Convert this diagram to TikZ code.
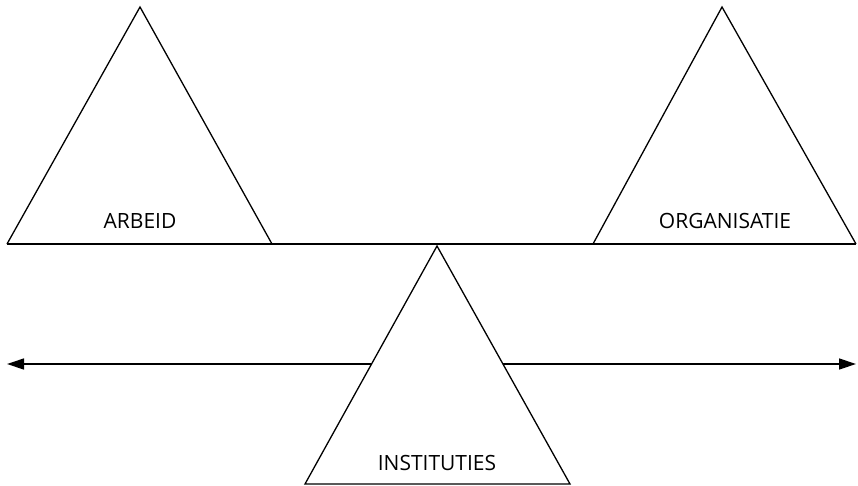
\documentclass[tikz,border=0pt]{standalone}
\usepackage{fontspec}
\setmainfont{Open Sans}
\usetikzlibrary{arrows.meta}
\begin{document}
\begin{tikzpicture}[x=1pt,y=-1pt,
  edge/.style={line width=1.3pt, line join=miter},
  label/.style={font=\fontsize{21}{24}\selectfont, inner sep=0pt, anchor=base},
  tip/.style={-{Triangle[length=17pt,width=11pt]}}]
  \useasboundingbox (0,0) rectangle (858,486);

  % corner points of the three triangles
  \coordinate (la) at (140,7);   \coordinate (ll) at (7,244);   \coordinate (lr) at (272,244);
  \coordinate (ra) at (722,7);   \coordinate (rl) at (593,244); \coordinate (rr) at (856,244);
  \coordinate (ca) at (437,246); \coordinate (cl) at (305,484); \coordinate (cr) at (570,484);

  % ends of the double arrow, where it meets the lower triangle
  \coordinate (al) at (7,364);   \coordinate (ae) at (371.5,364);
  \coordinate (be) at (503,364); \coordinate (ar) at (856,364);

  % beam and triangles
  \draw[edge] (ll) -- (rr);
  \draw[edge] (ll) -- (la) -- (lr);
  \draw[edge] (rl) -- (ra) -- (rr);
  \draw[edge] (cl) -- (ca) -- (cr) -- cycle;

  % double arrow, interrupted by the lower triangle
  \draw[edge, tip] (ae) -- (al);
  \draw[edge, tip] (be) -- (ar);

  \node[label] (arbeid) at (140,228) {ARBEID};
  \node[label] (org) at (725,228) {ORGANISATIE};
  \node[label] (inst) at (437,470) {INSTITUTIES};
\end{tikzpicture}
\end{document}
